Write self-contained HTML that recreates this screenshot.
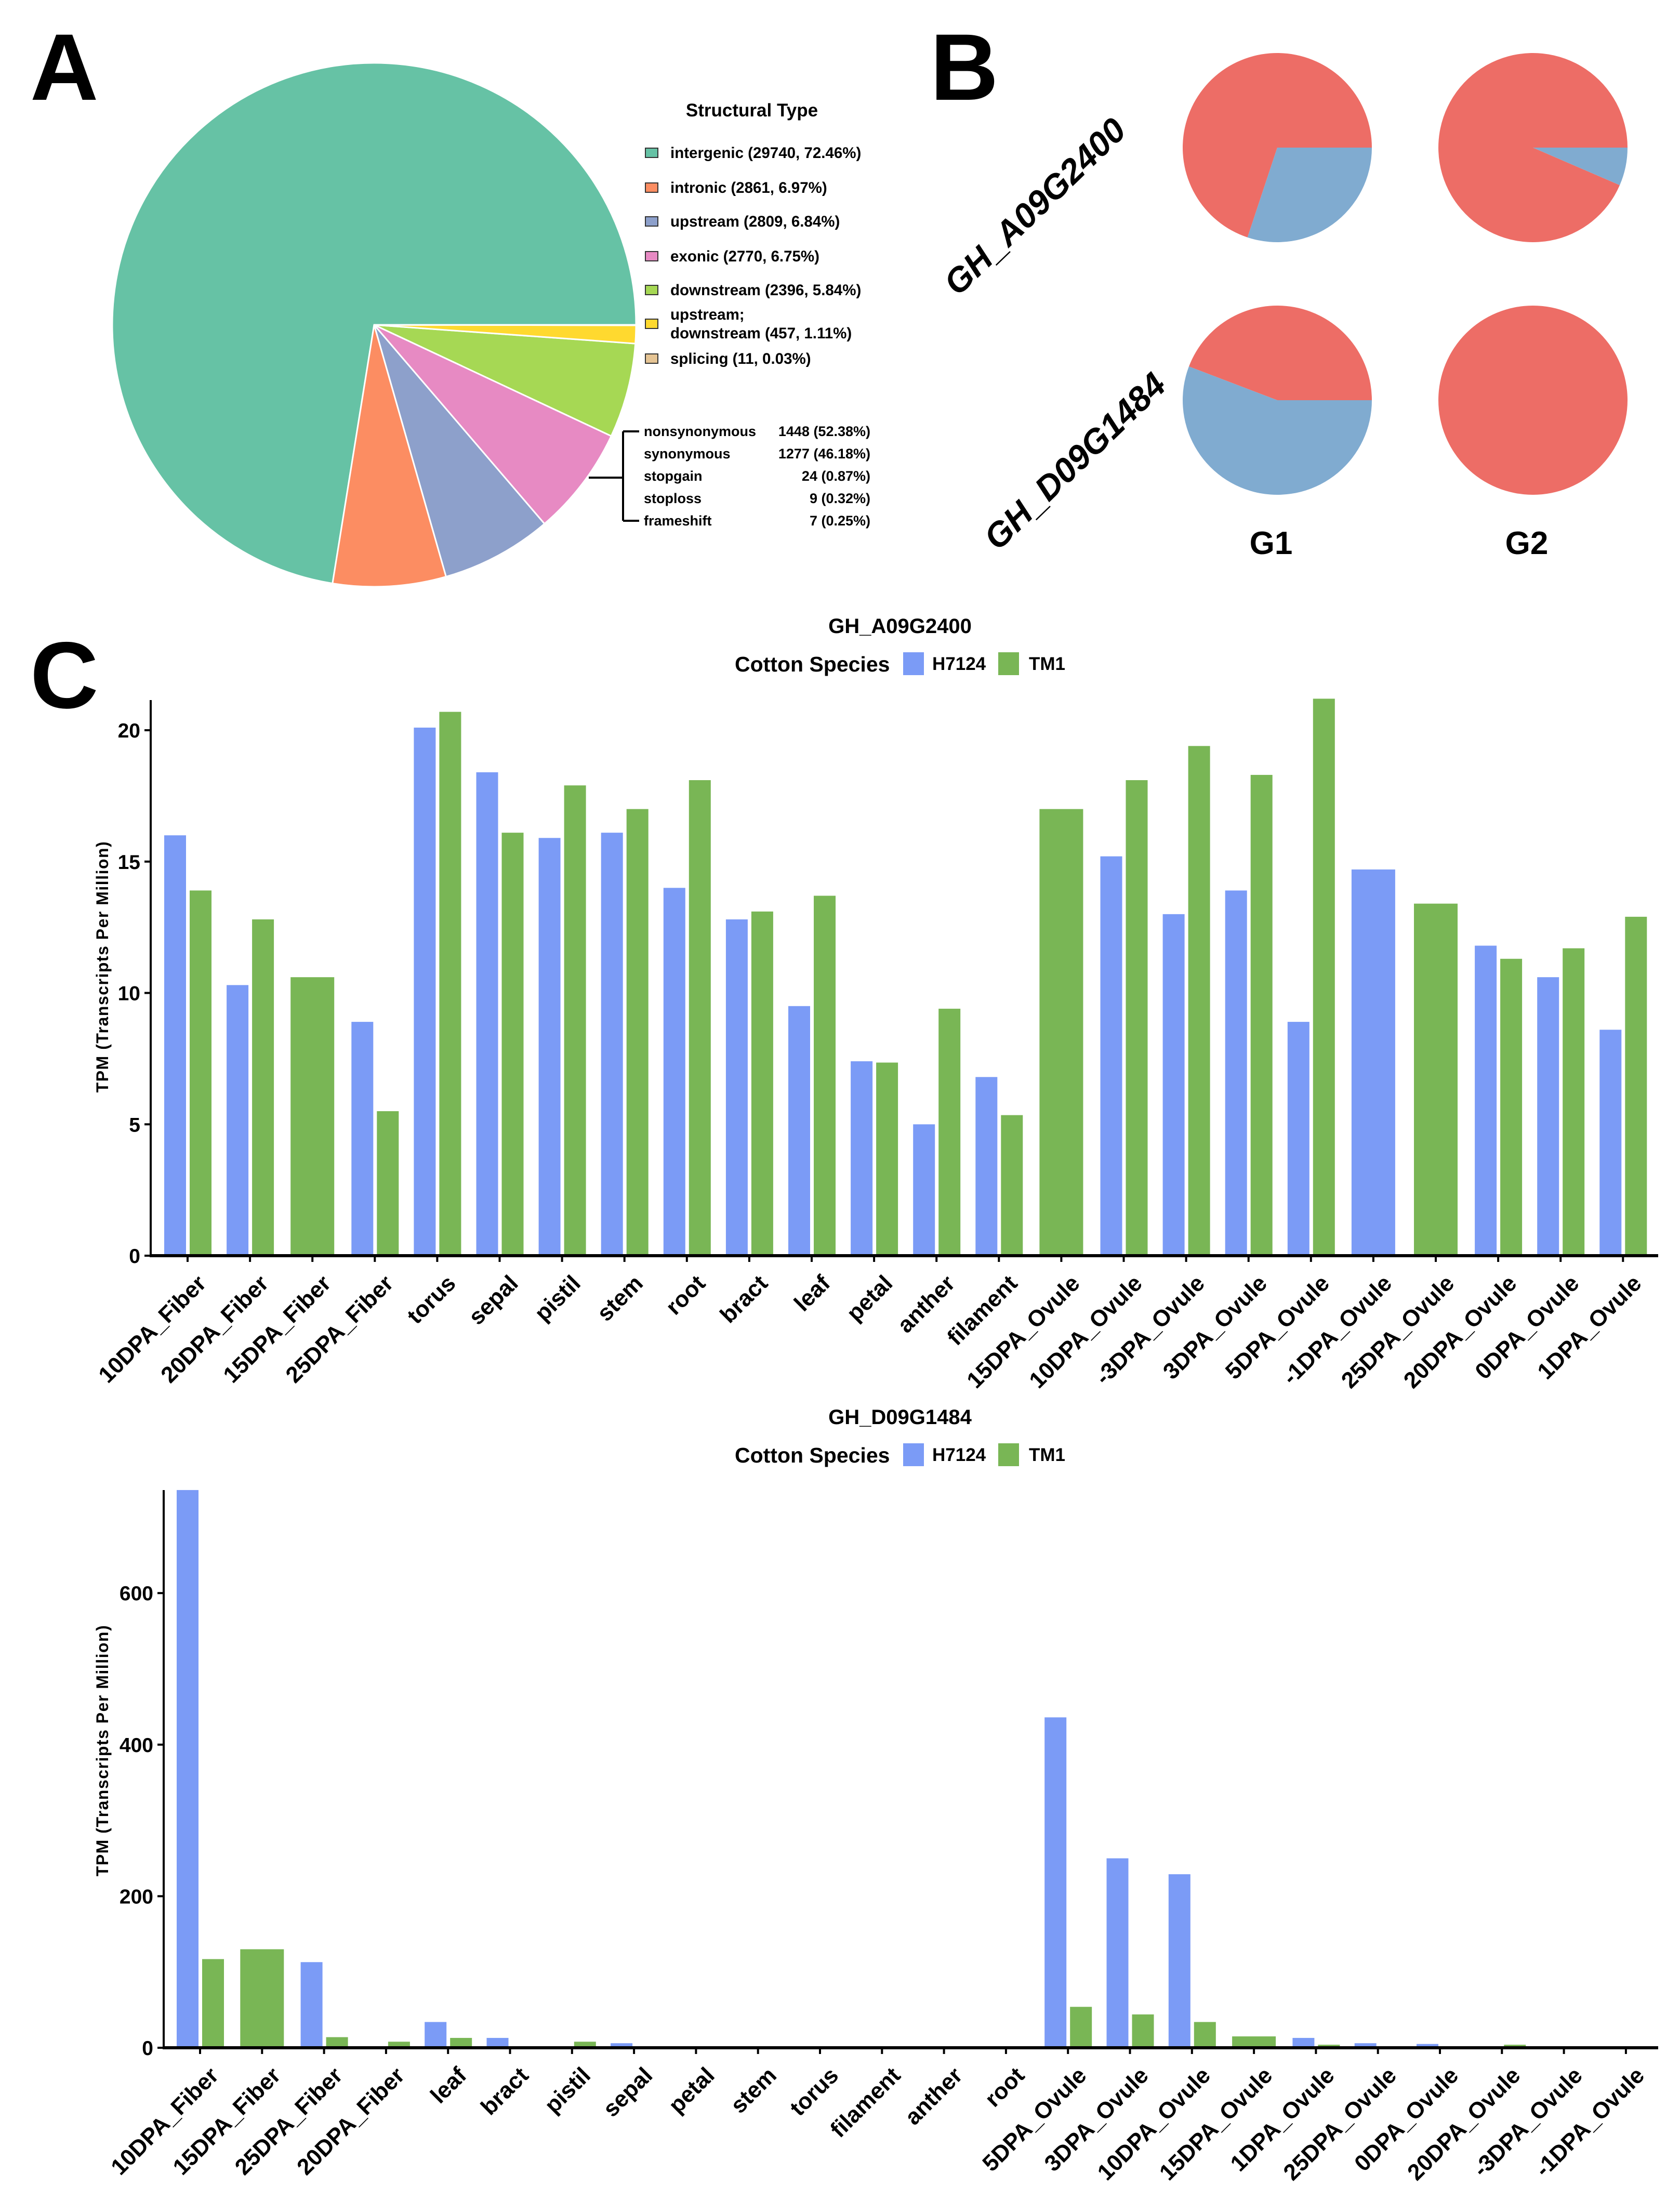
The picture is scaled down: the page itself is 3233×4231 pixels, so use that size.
<!DOCTYPE html>
<html><head><meta charset="utf-8">
<style>
html,body{margin:0;padding:0;background:#fff;}
svg{display:block;font-family:"Liberation Sans",Arial,sans-serif;font-weight:bold;}
</style></head>
<body>
<svg id="fig" width="3233" height="4231" viewBox="0 0 3233 4231" xmlns="http://www.w3.org/2000/svg">
<rect width="3233" height="4231" fill="#fff"/>
<text x="58" y="192" font-size="182">A</text>
<text x="1790" y="192" font-size="182">B</text>
<text x="58" y="1362" font-size="182">C</text>
<g id="pieA"></g>
<g id="legA">
<text x="1447" y="224" font-size="35" text-anchor="middle">Structural Type</text>
</g>
<g id="tableA">
<path d="M1133 919 H1199 M1199 830 V1002 M1199 830 H1230 M1199 1002 H1230" stroke="#000" stroke-width="4" fill="none"/>
</g>
<g id="pieB">
<text transform="translate(1995,401) rotate(-44)" font-size="66" font-style="italic" text-anchor="middle" dominant-baseline="middle">GH_A09G2400</text>
<text transform="translate(2072,891) rotate(-44)" font-size="66" font-style="italic" text-anchor="middle" dominant-baseline="middle">GH_D09G1484</text>
<text x="2446" y="1066" font-size="62" text-anchor="middle">G1</text>
<text x="2938" y="1066" font-size="62" text-anchor="middle">G2</text>
</g>
<g id="chart1"></g>
<g id="chart2"></g>
</svg>
<script>
// ---- Panel A data ----
const typeNames = ["intergenic","intronic","upstream","exonic","downstream","upstream;|downstream","splicing"];
const typeCounts = [29740,2861,2809,2770,2396,457,11];
const typePct = ["72.46%","6.97%","6.84%","6.75%","5.84%","1.11%","0.03%"];
const typeColors = ["#66c2a5","#fc8d62","#8da0cb","#e78ac3","#a6d854","#ffd92f","#e5c494"];
const exNames = ["nonsynonymous","synonymous","stopgain","stoploss","frameshift"];
const exCounts = [1448,1277,24,9,7];
const exPct = ["52.38%","46.18%","0.87%","0.32%","0.25%"];
// ---- Panel B data (blue fraction) ----
const pieBFractions = [0.301,0.065,0.558,0.0];
// ---- Chart 1 data ----
const cats1 = ["10DPA_Fiber","20DPA_Fiber","15DPA_Fiber","25DPA_Fiber","torus","sepal","pistil","stem","root","bract","leaf","petal","anther","filament","15DPA_Ovule","10DPA_Ovule","-3DPA_Ovule","3DPA_Ovule","5DPA_Ovule","-1DPA_Ovule","25DPA_Ovule","20DPA_Ovule","0DPA_Ovule","1DPA_Ovule"];
const h1 = [16.0,10.3,null,8.9,20.1,18.4,15.9,16.1,14.0,12.8,9.5,7.4,5.0,6.8,null,15.2,13.0,13.9,8.9,14.7,null,11.8,10.6,8.6];
const t1 = [13.9,12.8,10.6,5.5,20.7,16.1,17.9,17.0,18.1,13.1,13.7,7.35,9.4,5.35,17.0,18.1,19.4,18.3,21.2,null,13.4,11.3,11.7,12.9];
const ticks1 = [0,5,10,15,20];
// ---- Chart 2 data ----
const cats2 = ["10DPA_Fiber","15DPA_Fiber","25DPA_Fiber","20DPA_Fiber","leaf","bract","pistil","sepal","petal","stem","torus","filament","anther","root","5DPA_Ovule","3DPA_Ovule","10DPA_Ovule","15DPA_Ovule","1DPA_Ovule","25DPA_Ovule","0DPA_Ovule","20DPA_Ovule","-3DPA_Ovule","-1DPA_Ovule"];
const h2 = [736,null,113,0.3,34,13,2,6,0.5,0.5,0.5,0.5,0.5,0.5,436,250,229,null,13,6,5,1,0.5,0.5];
const t2 = [117,130,14,8,13,1,8,1,0.5,0.5,0.5,0.5,0.5,0.5,54,44,34,15,4,1,0.5,4,0.5,0.5];
const ticks2 = [0,200,400,600];

const NS="http://www.w3.org/2000/svg";
function mk(tag,attrs,parent){const e=document.createElementNS(NS,tag);for(const k in attrs)e.setAttribute(k,attrs[k]);parent.appendChild(e);return e;}
function arc(cx,cy,r,a0,a1){
  if(a1-a0>=Math.PI*2-1e-6){return `M${cx-r} ${cy} A${r} ${r} 0 1 1 ${cx+r} ${cy} A${r} ${r} 0 1 1 ${cx-r} ${cy} Z`;}
  const x0=cx+r*Math.cos(a0),y0=cy+r*Math.sin(a0),x1=cx+r*Math.cos(a1),y1=cy+r*Math.sin(a1);
  const large=(a1-a0)>Math.PI?1:0;
  return `M${cx} ${cy} L${x0} ${y0} A${r} ${r} 0 ${large} 1 ${x1} ${y1} Z`;
}
(function(){
  const g=document.getElementById('pieA');
  const total=typeCounts.reduce((a,b)=>a+b,0);
  let a=0;
  typeCounts.forEach((v,i)=>{
    const sweep=v/total*Math.PI*2;
    const p=mk('path',{d:arc(720,625,504,-(a+sweep),-a),fill:typeColors[i],stroke:'#fff','stroke-width':3},g);
    
    
    a+=sweep;
  });
  const lg=document.getElementById('legA');
  const ys=[294,361,426,493,558,623,690];
  typeNames.forEach((n,i)=>{
    const sq=mk('rect',{x:1242,y:ys[i]-9,width:24,height:18,fill:typeColors[i],stroke:'#333','stroke-width':2},lg);
    
    
    const label=`(${typeCounts[i]}, ${typePct[i]})`;
    if(n.includes('|')){
      const parts=n.split('|');
      const t1e=mk('text',{x:1290,y:ys[i]-8,'font-size':29.5},lg);t1e.textContent=parts[0];
      
      
      const t2e=mk('text',{x:1290,y:ys[i]+28,'font-size':29.5},lg);t2e.textContent=parts[1]+' '+label;
      
      
    } else {
      const t=mk('text',{x:1290,y:ys[i]+10,'font-size':29.5},lg);t.textContent=n+' '+label;
      
      
    }
  });
  const tg=document.getElementById('tableA');
  const ty=[830,873,916,959,1002];
  exNames.forEach((n,i)=>{
    const t=mk('text',{x:1239,y:ty[i]+9,'font-size':27},tg);t.textContent=n;
    
    
    const v=mk('text',{x:1675,y:ty[i]+9,'font-size':27,'text-anchor':'end'},tg);v.textContent=exCounts[i]+' ('+exPct[i]+')';
    
    
  });
})();
(function(){
  const g=document.getElementById('pieB');
  const centers=[[2458,284],[2950,284],[2458,770],[2950,770]];
  pieBFractions.forEach((f,i)=>{
    const [cx,cy]=centers[i];
    const s=f*Math.PI*2;
    const red=mk('path',{d:arc(cx,cy,182,s,Math.PI*2),fill:'#ed6d66'},g);
    
    
    if(f>0){
      const bl=mk('path',{d:arc(cx,cy,182,0,s),fill:'#80abd0'},g);
      
      
    }
  });
})();
function barChart(gid,cfg){
  const g=document.getElementById(gid);
  const {cats,h,t,ticks,x0,yZero,yTop,pxPerUnit,c0,step,title,titleY,legY,xEnd,yLabelY}=cfg;
  const yS=v=>yZero-v*pxPerUnit;
  const xS=i=>c0+i*step;
  const tt=mk('text',{x:1732,y:titleY,'font-size':40,'text-anchor':'middle'},g);tt.textContent=title;
  
  
  const l1=mk('text',{x:1414,y:legY+15,'font-size':41},g);l1.textContent='Cotton Species';
  
  
  const b1=mk('rect',{x:1738,y:legY-22,width:40,height:44,fill:'#7b9bf6'},g);
  
  
  const l2=mk('text',{x:1794,y:legY+12,'font-size':35},g);l2.textContent='H7124';
  
  
  const b2=mk('rect',{x:1921,y:legY-22,width:40,height:44,fill:'#79b655'},g);
  
  
  const l3=mk('text',{x:1980,y:legY+12,'font-size':35},g);l3.textContent='TM1';
  
  
  cats.forEach((c,i)=>{
    const cx=xS(i);
    const hv=h[i],tv=t[i];
    if(hv!=null&&tv!=null){
      const r1=mk('rect',{x:cx-45,y:yS(hv),width:42,height:yZero-yS(hv),fill:'#7b9bf6'},g);
      
      
      const r2=mk('rect',{x:cx+4,y:yS(tv),width:42,height:yZero-yS(tv),fill:'#79b655'},g);
      
      
    } else if(hv!=null){
      const r1=mk('rect',{x:cx-42,y:yS(hv),width:84,height:yZero-yS(hv),fill:'#7b9bf6'},g);
      
      
    } else if(tv!=null){
      const r2=mk('rect',{x:cx-42,y:yS(tv),width:84,height:yZero-yS(tv),fill:'#79b655'},g);
      
      
    }
    const tk=mk('line',{x1:cx,x2:cx,y1:yZero,y2:yZero+12,stroke:'#000','stroke-width':4},g);
    
    
    const lb=mk('text',{transform:`translate(${cx+16},${yZero+34}) rotate(-45)`,'font-size':44,'text-anchor':'end','dominant-baseline':'hanging'},g);
    lb.textContent=c;
    
    
  });
  const ya=mk('line',{x1:x0,x2:x0,y1:yTop,y2:yZero+3,stroke:'#000','stroke-width':4},g);
  
  
  const xa=mk('line',{x1:x0-2,x2:xEnd,y1:yZero,y2:yZero,stroke:'#000','stroke-width':6},g);
  
  
  ticks.forEach(v=>{
    const tl=mk('line',{x1:x0-12,x2:x0,y1:yS(v),y2:yS(v),stroke:'#000','stroke-width':4},g);
    
    
    const tx=mk('text',{x:x0-20,y:yS(v)+14,'font-size':39,'text-anchor':'end'},g);tx.textContent=v;
    
    
  });
  const yl=mk('text',{transform:`translate(208,${yLabelY}) rotate(-90)`,'font-size':32,'text-anchor':'middle','letter-spacing':'1.5'},g);
  yl.textContent='TPM (Transcripts Per Million)';
  
  
}
barChart('chart1',{cats:cats1,h:h1,t:t1,ticks:ticks1,x0:290,yZero:2416,yTop:1347,pxPerUnit:50.55,c0:361,step:120.1,title:'GH_A09G2400',titleY:1218,legY:1277,xEnd:3191,yLabelY:1860});
barChart('chart2',{cats:cats2,h:h2,t:t2,ticks:ticks2,x0:315,yZero:3940,yTop:2867,pxPerUnit:1.458,c0:385,step:119.3,title:'GH_D09G1484',titleY:2740,legY:2799,xEnd:3191,yLabelY:3368});
</script>
</body></html>
